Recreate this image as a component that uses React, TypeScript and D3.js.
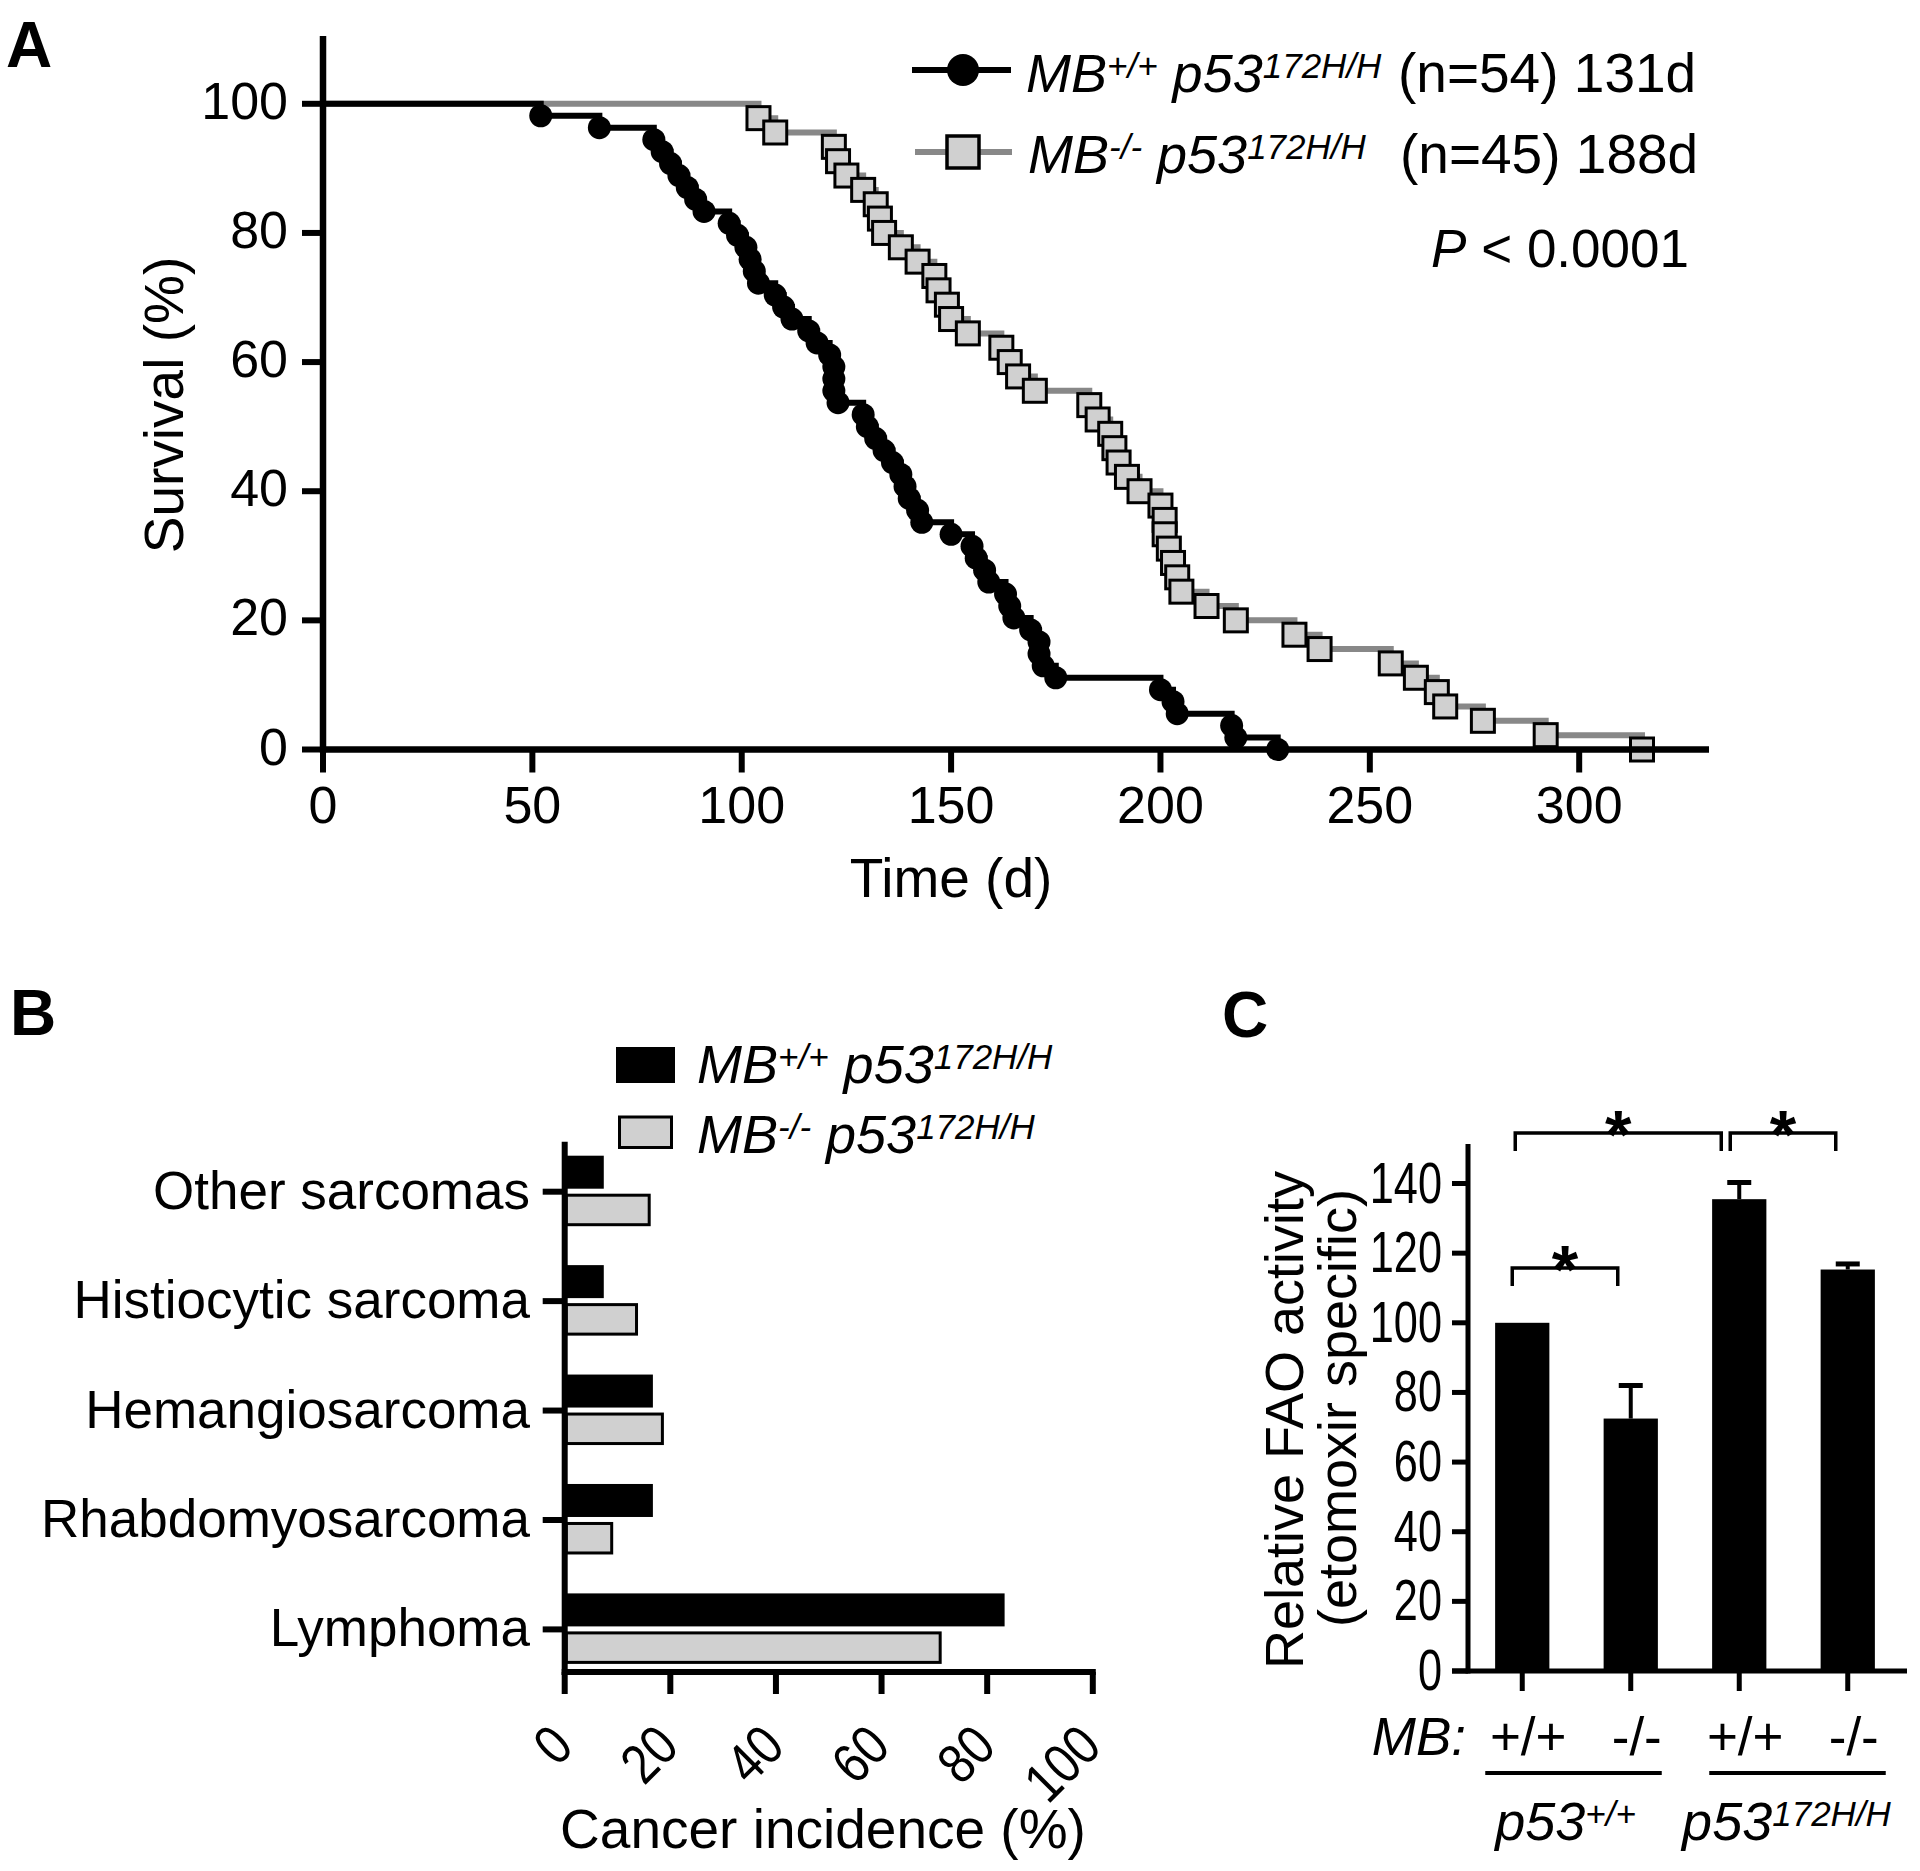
import React from 'react';
import * as d3 from 'd3';

const FONT = '"Liberation Sans", Arial, Helvetica, sans-serif';

// ---------------- Panel A: Kaplan-Meier survival ----------------
// day of each death (no censoring)
const deathDaysMBwt = [
  52, 66, 79,
  81, 83, 85, 87, 89, 91,
  97, 99, 101, 102, 103, 104,
  108, 110, 112, 116, 118, 121,
  122, 122, 122,
  123, 129, 130, 132, 134, 136, 138, 139, 140, 142, 143,
  150,
  155, 156, 158, 159, 163, 164, 165, 169, 171, 171, 172, 175,
  200, 203, 204, 217, 218, 228,
];
const deathDaysMBko = [
  104, 108, 122, 123, 125, 129, 132, 133, 134, 138,
  142, 146, 147, 149, 150, 154, 162, 164, 166, 170,
  183, 185, 188, 189, 190, 192, 195, 200, 201, 201,
  202, 203, 204, 205, 211, 218, 232, 238, 255, 261,
  266, 268, 277, 292, 315,
];
const survivalXTicks = [0, 50, 100, 150, 200, 250, 300];
const survivalYTicks = [0, 20, 40, 60, 80, 100];
const legendStatsA = ['(n=54) 131d', '(n=45) 188d'];
const pValueLabel = '< 0.0001';

// ---------------- Panel B: cancer incidence ----------------
const cancerTypes = ['Other sarcomas', 'Histiocytic sarcoma', 'Hemangiosarcoma', 'Rhabdomyosarcoma', 'Lymphoma'];
const incidenceMBwt = [7.4, 7.4, 16.7, 16.7, 83.3];
const incidenceMBko = [16.0, 13.6, 18.5, 8.9, 71.1];
const incidenceTicks = [0, 20, 40, 60, 80, 100];

// ---------------- Panel C: FAO activity ----------------
const faoGroups = ['p53wt-MBwt', 'p53wt-MBko', 'p53mut-MBwt', 'p53mut-MBko'];
const faoMBLabels = ['+/+', '-/-', '+/+', '-/-'];
const faoMean = [100, 72.5, 135.5, 115.3];
const faoSem = [0, 9.5, 4.8, 1.6];
const faoTicks = [0, 20, 40, 60, 80, 100, 120, 140];
const faoP53Sup = ['+/+', '172H/H'];

type Part = { t: string; sup: string };

function SupText({ x, y, parts, size = 54, supSize = 35, shift = 14, anchor = 'start', italic = true }:
  { x: number; y: number; parts: Part[]; size?: number; supSize?: number; shift?: number; anchor?: string; italic?: boolean }) {
  return (
    <text x={x} y={y} fontSize={size} fontStyle={italic ? 'italic' : 'normal'} textAnchor={anchor as any} fontFamily={FONT}>
      {parts.map((p, i) => (
        <React.Fragment key={i}>
          <tspan dy={i === 0 ? 0 : shift}>{p.t}</tspan>
          <tspan dy={-shift} fontSize={supSize}>{p.sup}</tspan>
        </React.Fragment>
      ))}
    </text>
  );
}

function km(times: number[]) {
  const n = times.length;
  return [{ t: 0, s: 100 }, ...times.map((t, i) => ({ t, s: (100 * (n - i - 1)) / n }))];
}

function PanelA() {
  const xA = d3.scaleLinear().domain([0, 331]).range([323, 1709]);
  const yA = d3.scaleLinear().domain([0, 110.5]).range([749.5, 36]);
  const wt = km(deathDaysMBwt);
  const ko = km(deathDaysMBko);
  const line = d3.line<{ t: number; s: number }>().x(d => xA(d.t)).y(d => yA(d.s)).curve(d3.curveStepAfter);
  const x0 = xA(0);
  const y0 = yA(0);
  const sq = 23;
  return (
    <g>
      <text x={6} y={67} fontSize={64} fontWeight="bold" fontFamily={FONT}>A</text>
      {/* curves */}
      <path d={line(ko) || ''} fill="none" stroke="#888" strokeWidth={6} />
      <path d={line(wt) || ''} fill="none" stroke="#000" strokeWidth={6} />
      {ko.slice(1).map((d, i) => (
        <rect key={'k' + i} x={xA(d.t) - sq / 2} y={yA(d.s) - sq / 2} width={sq} height={sq} fill="#d0d0d0" stroke="#000" strokeWidth={3} />
      ))}
      {wt.slice(1).map((d, i) => (
        <circle key={'w' + i} cx={xA(d.t)} cy={yA(d.s)} r={11.5} fill="#000" />
      ))}
      {/* axes */}
      <line x1={x0} x2={x0} y1={yA.range()[1]} y2={y0 + 3} stroke="#000" strokeWidth={6.5} />
      <line x1={x0 - 3} x2={xA.range()[1]} y1={y0} y2={y0} stroke="#000" strokeWidth={6.5} />
      {survivalYTicks.map(v => (
        <g key={'yt' + v}>
          <line x1={x0 - 21} x2={x0} y1={yA(v)} y2={yA(v)} stroke="#000" strokeWidth={6} />
          <text x={288} y={yA(v) + 15} textAnchor="end" fontSize={52} fontFamily={FONT}>{v}</text>
        </g>
      ))}
      {survivalXTicks.map(v => (
        <g key={'xt' + v}>
          <line x1={xA(v)} x2={xA(v)} y1={y0} y2={y0 + 23} stroke="#000" strokeWidth={6} />
          <text x={xA(v)} y={823} textAnchor="middle" fontSize={52} fontFamily={FONT}>{v}</text>
        </g>
      ))}
      <text x={951} y={897} textAnchor="middle" fontSize={55} fontFamily={FONT}>Time (d)</text>
      <text transform="translate(183,405) rotate(-90)" textAnchor="middle" fontSize={55} fontFamily={FONT}>Survival (%)</text>
      {/* legend */}
      <line x1={912} x2={1011} y1={70} y2={70} stroke="#000" strokeWidth={6} />
      <circle cx={963} cy={70} r={16} fill="#000" />
      <SupText x={1026} y={92} parts={[{ t: 'MB', sup: '+/+' }, { t: ' p53', sup: '172H/H' }]} />
      <text x={1398} y={92} fontSize={55} fontFamily={FONT}>{legendStatsA[0]}</text>
      <line x1={915} x2={1012} y1={152} y2={152} stroke="#888" strokeWidth={6} />
      <rect x={963 - 16} y={152 - 16} width={32} height={32} fill="#d0d0d0" stroke="#000" strokeWidth={3.5} />
      <SupText x={1028} y={173} parts={[{ t: 'MB', sup: '-/-' }, { t: ' p53', sup: '172H/H' }]} />
      <text x={1400} y={173} fontSize={55} fontFamily={FONT}>{legendStatsA[1]}</text>
      <text x={1689} y={267} textAnchor="end" fontSize={53} fontFamily={FONT}>
        <tspan fontStyle="italic">P</tspan> {pValueLabel}
      </text>
    </g>
  );
}

function PanelB() {
  const xB = d3.scaleLinear().domain([0, 100]).range([564.7, 1092.8]);
  const yB = d3.scalePoint<string>().domain(cancerTypes).range([1191.7, 1629.4]);
  const x0 = xB(0);
  const axisY = 1672;
  return (
    <g>
      <text x={10} y={1035} fontSize={64} fontWeight="bold" fontFamily={FONT}>B</text>
      {/* legend */}
      <rect x={616} y={1047} width={59} height={36} fill="#000" />
      <rect x={619.5} y={1117} width={52} height={30.5} fill="#d0d0d0" stroke="#000" strokeWidth={3} />
      <SupText x={697} y={1083} parts={[{ t: 'MB', sup: '+/+' }, { t: ' p53', sup: '172H/H' }]} />
      <SupText x={697} y={1153} parts={[{ t: 'MB', sup: '-/-' }, { t: ' p53', sup: '172H/H' }]} />
      {/* bars */}
      {cancerTypes.map((c, i) => {
        const cy = yB(c) as number;
        return (
          <g key={c}>
            <rect x={x0} y={cy - 36} width={xB(incidenceMBwt[i]) - x0} height={33} fill="#000" />
            <rect x={x0 + 1.5} y={cy + 3.5} width={xB(incidenceMBko[i]) - x0 - 1.5} height={29.5} fill="#d0d0d0" stroke="#000" strokeWidth={3} />
            <line x1={x0 - 22} x2={x0} y1={cy} y2={cy} stroke="#000" strokeWidth={6} />
            <text x={530} y={cy + 17} textAnchor="end" fontSize={53} fontFamily={FONT}>{c}</text>
          </g>
        );
      })}
      {/* axes */}
      <line x1={x0} x2={x0} y1={1141.7} y2={axisY + 3} stroke="#000" strokeWidth={6} />
      <line x1={x0 - 3} x2={xB(100) + 3} y1={axisY} y2={axisY} stroke="#000" strokeWidth={6} />
      {incidenceTicks.map(v => (
        <g key={'bt' + v}>
          <line x1={xB(v)} x2={xB(v)} y1={axisY} y2={axisY + 22} stroke="#000" strokeWidth={6} />
          <text transform={`translate(${xB(v) + 11},1749) rotate(-45) scale(0.85,1)`} textAnchor="end" fontSize={56} fontFamily={FONT}>{v}</text>
        </g>
      ))}
      <text x={823} y={1848} textAnchor="middle" fontSize={55} fontFamily={FONT}>Cancer incidence (%)</text>
    </g>
  );
}

function PanelC() {
  const xC = d3.scaleBand<string>().domain(faoGroups).range([1468, 1902]).paddingInner(0.5).paddingOuter(0.25);
  const yC = d3.scaleLinear().domain([0, 150]).range([1671, 1148.7]);
  const bw = xC.bandwidth();
  const cx = (i: number) => (xC(faoGroups[i]) as number) + bw / 2;
  const axX = 1468;
  const axY = yC(0);
  const brackets = [
    { a: cx(0) - 7, b: cx(2) - 18, y: 1133, leg: 18 },
    { a: cx(2) - 9, b: cx(3) - 12, y: 1133, leg: 18 },
    { a: cx(0) - 10, b: cx(1) - 13, y: 1268, leg: 18 },
  ];
  return (
    <g>
      <text x={1222} y={1037} fontSize={64} fontWeight="bold" fontFamily={FONT}>C</text>
      {faoGroups.map((g, i) => (
        <g key={g}>
          {faoSem[i] > 0 && (
            <g>
              <line x1={cx(i)} x2={cx(i)} y1={yC(faoMean[i])} y2={yC(faoMean[i] + faoSem[i])} stroke="#000" strokeWidth={4} />
              <line x1={cx(i) - 12} x2={cx(i) + 12} y1={yC(faoMean[i] + faoSem[i])} y2={yC(faoMean[i] + faoSem[i])} stroke="#000" strokeWidth={5} />
            </g>
          )}
          <rect x={xC(g)} y={yC(faoMean[i])} width={bw} height={axY - yC(faoMean[i])} fill="#000" />
          <line x1={cx(i)} x2={cx(i)} y1={axY} y2={axY + 20} stroke="#000" strokeWidth={5} />
          <text x={cx(i) + 6} y={1755} textAnchor="middle" fontSize={53} fontFamily={FONT}>{faoMBLabels[i]}</text>
        </g>
      ))}
      {/* axes */}
      <line x1={axX} x2={axX} y1={1144} y2={axY + 2.5} stroke="#000" strokeWidth={5} />
      <line x1={axX - 16} x2={1907} y1={axY} y2={axY} stroke="#000" strokeWidth={5} />
      {faoTicks.map(v => (
        <g key={'ct' + v}>
          <line x1={axX - 16} x2={axX} y1={yC(v)} y2={yC(v)} stroke="#000" strokeWidth={5} />
          <text transform={`translate(1442,${yC(v) + 19}) scale(0.76,1)`} textAnchor="end" fontSize={57} fontFamily={FONT}>{v}</text>
        </g>
      ))}
      <text transform="translate(1303,1420) rotate(-90)" textAnchor="middle" fontSize={54} fontFamily={FONT}>Relative FAO activity</text>
      <text transform="translate(1356,1408) rotate(-90)" textAnchor="middle" fontSize={54} fontFamily={FONT}>(etomoxir specific)</text>
      {/* significance brackets */}
      {brackets.map((b, i) => (
        <g key={'br' + i}>
          <path d={`M${b.a},${b.y + b.leg}V${b.y}H${b.b}V${b.y + b.leg}`} fill="none" stroke="#000" strokeWidth={3.5} />
          <text x={(b.a + b.b) / 2} y={b.y + 25} textAnchor="middle" fontSize={68} fontWeight="bold" fontFamily={FONT}>*</text>
        </g>
      ))}
      {/* genotype labels */}
      <text x={1466} y={1755} textAnchor="end" fontSize={53} fontStyle="italic" fontFamily={FONT}>MB:</text>
      <line x1={cx(0) - 37} x2={cx(1) + 31} y1={1773} y2={1773} stroke="#000" strokeWidth={4} />
      <line x1={cx(2) - 30} x2={cx(3) + 38} y1={1773} y2={1773} stroke="#000" strokeWidth={4} />
      <SupText x={(cx(0) + cx(1)) / 2 - 11} y={1840} anchor="middle" parts={[{ t: 'p53', sup: faoP53Sup[0] }]} />
      <SupText x={(cx(2) + cx(3)) / 2 - 7} y={1840} anchor="middle" parts={[{ t: 'p53', sup: faoP53Sup[1] }]} />
    </g>
  );
}

export default function App() {
  return (
    <div style={{ position: 'absolute', left: 0, top: 0 }}>
      <svg width={1920} height={1871} style={{ display: 'block', background: '#fff' }}>
        <PanelA />
        <PanelB />
        <PanelC />
      </svg>
    </div>
  );
}
